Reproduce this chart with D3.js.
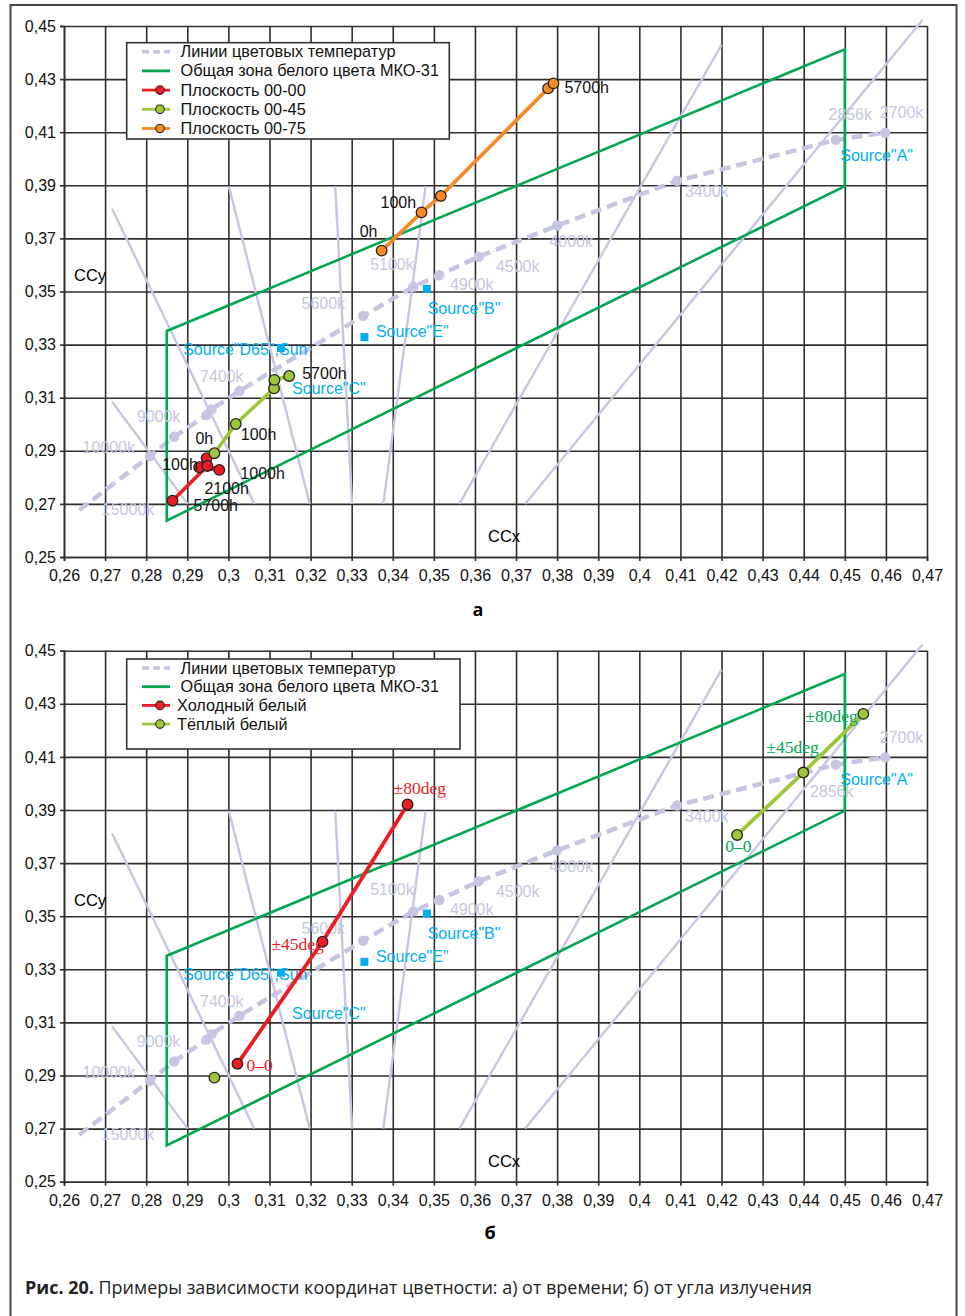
<!DOCTYPE html>
<html>
<head>
<meta charset="utf-8">
<script src="https://cdn.jsdelivr.net/npm/d3@7"></script>
<style>
  body { margin: 0; background: #fff; }
  svg { display: block; font-family: "Liberation Sans", Arial, sans-serif; }
</style>
</head>
<body>
<script>
// ---------- data ----------
const xTicks = d3.range(26, 48).map(v => v / 100);
const yTicks = d3.range(25, 46, 2).map(v => v / 100);

// planckian locus (dashed) : start point + marked temperatures
const locusStart = [0.2637, 0.2677];
const locusX = [0.2809, 0.2868, 0.2947, 0.2959, 0.3027, 0.3328, 0.3450, 0.3513, 0.3609, 0.3800, 0.4092, 0.4478, 0.4598];
const locusY = [0.2880, 0.2953, 0.3035, 0.3056, 0.3125, 0.3408, 0.3518, 0.3561, 0.3631, 0.3748, 0.3917, 0.4071, 0.4098];

const tempNames = ['15000k', '10000k', '9000k', '7400k', '5600k', '5100k', '4900k', '4500k', '4000k', '3400k', '2856k', '2700k'];
const tempLabelX = [0.2692, 0.2645, 0.2777, 0.2931, 0.3178, 0.3345, 0.3539, 0.3651, 0.3781, 0.4111, 0.4460, 0.4585];
const tempLabelY = [0.2658, 0.2890, 0.3009, 0.3159, 0.3434, 0.3581, 0.3506, 0.3573, 0.3668, 0.3856, 0.4146, 0.4152];
// in the lower chart the 2856k label sits under the point
const tempLabelX2856b = 0.4415, tempLabelY2856b = 0.3949;

// iso-temperature lines (solid lavender)
const isoX1 = [0.2717, 0.2717, 0.3001, 0.3260, 0.3480, 0.4200, 0.4689];
const isoY1 = [0.3812, 0.3085, 0.3897, 0.3897, 0.3897, 0.4429, 0.4523];
const isoX2 = [0.3063, 0.2901, 0.3198, 0.3301, 0.3377, 0.3562, 0.3722];
const isoY2 = [0.2700, 0.2700, 0.2700, 0.2700, 0.2700, 0.2700, 0.2700];

// white zone MKO-31
const zoneX = [0.2850, 0.4500, 0.4500, 0.2850];
const zoneY = [0.3351, 0.4412, 0.3897, 0.2637];

// reference sources (A and C have no visible square)
const sourceNames = ['Source"A"', 'Source"B"', 'Source"C"', 'Source"D65",Sun', 'Source"E"'];
const sourceX = [0.4476, 0.3483, 0.3101, 0.3128, 0.3331];
const sourceY = [0.4074, 0.3510, 0.3162, 0.3287, 0.3328];
const sourceMarked = [false, true, false, true, true];
const sourceLabelX = [0.4489, 0.3485, 0.3155, 0.2890, 0.3359];
const sourceLabelY = [0.3993, 0.3415, 0.3114, 0.3261, 0.3329];

// chart a: by time
const hours = ['0h', '100h', '1000h', '2100h', '5700h'];
const red00X = [0.2947, 0.2929, 0.2978, 0.2949, 0.2864];
const red00Y = [0.2872, 0.2838, 0.2828, 0.2843, 0.2712];
const green45X = [0.2966, 0.3018, 0.3111, 0.3112, 0.3148];
const green45Y = [0.2891, 0.3001, 0.3135, 0.3167, 0.3182];
const orange75X = [0.3373, 0.3470, 0.3517, 0.3778, 0.3791];
const orange75Y = [0.3654, 0.3798, 0.3860, 0.4265, 0.4284];

// chart b: by angle
const angles = ['0–0', '±45deg', '±80deg'];
const coldX = [0.3022, 0.3229, 0.3436];
const coldY = [0.2944, 0.3404, 0.3921];
const warmX = [0.4238, 0.4399, 0.4545];
const warmY = [0.3806, 0.4041, 0.4262];
const warmLoneX = [0.2966];
const warmLoneY = [0.2892];

// ---------- styles ----------
const C = {
  grid: '#2e2e2e', lav: '#c6c6e2', zone: '#00a651', cyan: '#00aeef',
  red: '#ed1c24', lime: '#9dc63b', orange: '#f6891f'
};

const W = 965, H = 1316;
const svg = d3.select('body').append('svg').attr('width', W).attr('height', H);

// outer frame
svg.append('rect').attr('x', 10.5).attr('y', 5).attr('width', 946).attr('height', 1330)
  .attr('fill', 'none').attr('stroke', '#444').attr('stroke-width', 2);

const x = d3.scaleLinear().domain([0.26, 0.47]).range([64, 927]);
const fmt = d => String(+d.toFixed(2)).replace('.', ',');
const zip = (a, b) => a.map((v, i) => [v, b[i]]);

function panel(top, opt) {
  const ph = 531;
  const y = d3.scaleLinear().domain([0.25, 0.45]).range([top + ph, top]);
  const g = svg.append('g');
  const line = d3.line().x(d => x(d[0])).y(d => y(d[1]));

  // grid
  g.append('g').attr('transform', `translate(0,${top + ph})`)
    .call(d3.axisBottom(x).tickValues(xTicks).tickSize(-ph).tickFormat(''))
    .call(a => a.select('.domain').remove())
    .selectAll('line').attr('stroke', C.grid).attr('stroke-width', 1.6);
  g.append('g').attr('transform', 'translate(64,0)')
    .call(d3.axisLeft(y).tickValues(yTicks).tickSize(-(927 - 64)).tickFormat(''))
    .call(a => a.select('.domain').remove())
    .selectAll('line').attr('stroke', C.grid).attr('stroke-width', 1.6);

  // axes with labels
  const ax = g.append('g').attr('transform', `translate(0,${top + ph})`)
    .call(d3.axisBottom(x).tickValues(xTicks).tickSize(4).tickPadding(9).tickFormat(fmt));
  const ay = g.append('g').attr('transform', 'translate(64,0)')
    .call(d3.axisLeft(y).tickValues(yTicks).tickSize(4).tickPadding(4).tickFormat(fmt));
  [ax, ay].forEach(a => {
    a.select('.domain').attr('stroke', C.grid).attr('stroke-width', 1.6);
    a.selectAll('line').attr('stroke', C.grid).attr('stroke-width', 1.6);
    a.selectAll('text').attr('font-size', 16).attr('fill', '#111')
      .attr('font-family', '"Liberation Sans", Arial, sans-serif');
  });

  // iso-temperature lines
  g.selectAll('.iso').data(isoX1).enter().append('line')
    .attr('x1', (d, i) => x(isoX1[i])).attr('y1', (d, i) => y(isoY1[i]))
    .attr('x2', (d, i) => x(isoX2[i])).attr('y2', (d, i) => y(isoY2[i]))
    .attr('stroke', C.lav).attr('stroke-width', 2.4);

  // sources (under the locus markers)
  g.selectAll('.src').data(sourceX.filter((d, i) => sourceMarked[i])).enter().append('rect')
    .attr('x', (d, i) => x(d) - 4)
    .attr('y', (d, i) => y(sourceY.filter((v, j) => sourceMarked[j])[i]) - 4)
    .attr('width', 8).attr('height', 8).attr('fill', C.cyan);

  // locus
  const locus = [locusStart].concat(zip(locusX, locusY));
  g.append('path').attr('d', line(locus)).attr('fill', 'none')
    .attr('stroke', C.lav).attr('stroke-width', 4.5).attr('stroke-dasharray', '11,6');
  g.selectAll('.lp').data(zip(locusX, locusY)).enter().append('circle')
    .attr('cx', d => x(d[0])).attr('cy', d => y(d[1])).attr('r', 5.2).attr('fill', C.lav);

  // zone
  g.append('path').attr('d', line(zip(zoneX, zoneY)) + 'Z').attr('fill', 'none')
    .attr('stroke', C.zone).attr('stroke-width', 2.6);

  // temperature labels
  g.selectAll('.tl').data(tempNames).enter().append('text')
    .attr('x', (d, i) => x(opt.bottom && d === '2856k' ? tempLabelX2856b : tempLabelX[i]))
    .attr('y', (d, i) => y(opt.bottom && d === '2856k' ? tempLabelY2856b : tempLabelY[i]))
    .attr('font-size', 16).attr('fill', C.lav).text(d => d);

  g.selectAll('.sl').data(sourceNames).enter().append('text')
    .attr('x', (d, i) => x(sourceLabelX[i])).attr('y', (d, i) => y(sourceLabelY[i]))
    .attr('font-size', 16).attr('fill', C.cyan).text(d => d);

  // axis names
  g.append('text').attr('x', 74).attr('y', top + 255).attr('font-size', 16.5).text('CCy');
  g.append('text').attr('x', 488).attr('y', top + 516).attr('font-size', 16.5).text('CCx');

  // series
  opt.series.forEach(s => {
    const pts = zip(s.x, s.y);
    if (pts.length > 1) {
      g.append('path').attr('d', line(pts)).attr('fill', 'none')
        .attr('stroke', s.color).attr('stroke-width', s.width || 3.6);
    }
    g.selectAll(null).data(pts).enter().append('circle')
      .attr('cx', d => x(d[0])).attr('cy', d => y(d[1])).attr('r', 5.3)
      .attr('fill', s.color).attr('stroke', '#222').attr('stroke-width', 1.3);
    if (!s.labels) return;
    g.selectAll(null).data(pts).enter().append('text')
      .attr('x', (d, i) => x(d[0]) + (s.shift[i] ? s.shift[i][0] : 0))
      .attr('y', (d, i) => y(d[1]) + (s.shift[i] ? s.shift[i][1] : 0))
      .attr('font-size', s.serif ? 17.5 : 16)
      .attr('font-family', s.serif ? '"Liberation Serif", "Times New Roman", serif' : null)
      .attr('fill', s.textColor || '#111')
      .text((d, i) => s.shift[i] ? s.labels[i] : '');
  });

  // legend
  const lg = g.append('g');
  lg.append('rect').attr('x', opt.legend.x).attr('y', top + opt.legend.y)
    .attr('width', opt.legend.w).attr('height', opt.legend.h)
    .attr('fill', '#fff').attr('stroke', '#333').attr('stroke-width', 1.6);
  opt.legend.items.forEach((it, i) => {
    const cy = top + opt.legend.y + 9 + i * opt.legend.step;
    lg.append('line').attr('x1', 142).attr('x2', 170).attr('y1', cy).attr('y2', cy)
      .attr('stroke', it.color).attr('stroke-width', it.dash ? 3.5 : 2.8)
      .attr('stroke-dasharray', it.dash ? '7,4' : null);
    if (it.marker) {
      lg.append('circle').attr('cx', 160).attr('cy', cy).attr('r', 4.3)
        .attr('fill', it.color).attr('stroke', '#222').attr('stroke-width', 1.1);
    }
    lg.append('text').attr('x', it.tx || 180.5).attr('y', cy + 5.5)
      .attr('font-size', 16.3).attr('fill', '#111').text(it.name);
  });
}

panel(26, {
  bottom: false,
  series: [
    { x: orange75X, y: orange75Y, color: C.orange, labels: hours,
      shift: [[-22, -14], [-41, -4], null, null, [11, 10]] },
    { x: red00X, y: red00Y, color: C.red, labels: hours,
      shift: [null, [-37, 3], [21, 9], [-3, 28], [21, 10]] },
    { x: green45X, y: green45Y, color: C.lime, labels: hours,
      shift: [[-19, -9], [5, 16], null, null, [13, 3]] }
  ],
  legend: { x: 126.7, y: 16.7, w: 322.6, h: 96.3, step: 19.2,
    items: [
      { name: 'Линии цветовых температур', color: C.lav, dash: true },
      { name: 'Общая зона белого цвета МКО-31', color: C.zone },
      { name: 'Плоскость 00-00', color: C.red, marker: true },
      { name: 'Плоскость 00-45', color: C.lime, marker: true },
      { name: 'Плоскость 00-75', color: C.orange, marker: true }
    ] }
});

panel(650.7, {
  bottom: true,
  series: [
    { x: coldX, y: coldY, color: C.red, width: 3.8, labels: angles, serif: true, textColor: C.red,
      shift: [[9, 7], [-51, 8], [-14, -10]] },
    { x: warmX, y: warmY, color: C.lime, width: 3.8, labels: angles, serif: true, textColor: '#00a651',
      shift: [[-12, 17], [-37, -20], [-58, 8]] },
    { x: warmLoneX, y: warmLoneY, color: C.lime }
  ],
  legend: { x: 126.7, y: 8.3, w: 333.3, h: 90, step: 18.7,
    items: [
      { name: 'Линии цветовых температур', color: C.lav, dash: true },
      { name: 'Общая зона белого цвета МКО-31', color: C.zone },
      { name: 'Холодный белый', color: C.red, marker: true, tx: 177 },
      { name: 'Тёплый белый', color: C.lime, marker: true, tx: 177 }
    ] }
});

// sub captions
svg.append('text').attr('x', 478).attr('y', 616).attr('text-anchor', 'middle')
  .attr('font-size', 18).attr('font-weight', 'bold').attr('font-family', '"Open Sans", sans-serif').text('а');
svg.append('text').attr('x', 490).attr('y', 1239).attr('text-anchor', 'middle')
  .attr('font-size', 18).attr('font-weight', 'bold').attr('font-family', '"Open Sans", sans-serif').text('б');

const cap = svg.append('text').attr('x', 25).attr('y', 1294)
  .attr('font-size', 17.5).attr('font-family', '"Open Sans", sans-serif').attr('fill', '#222')
  .attr('textLength', 787).attr('lengthAdjust', 'spacingAndGlyphs');
cap.append('tspan').attr('font-weight', 'bold').text('Рис. 20.');
cap.append('tspan').text(' Примеры зависимости координат цветности: а) от времени; б) от угла излучения');
</script>
</body>
</html>
